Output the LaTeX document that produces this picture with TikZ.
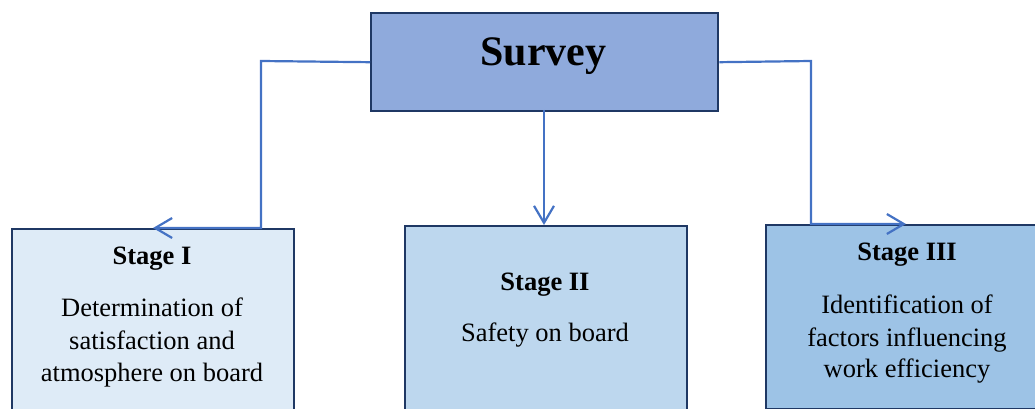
\documentclass[tikz,border=0pt]{standalone}
\usepackage{fontspec}
\setmainfont{Liberation Serif}
\usetikzlibrary{arrows.meta}
\definecolor{navy}{HTML}{1F3864}
\definecolor{surveyfill}{HTML}{8FAADC}
\definecolor{sonefill}{HTML}{DEEBF7}
\definecolor{stwofill}{HTML}{BDD7EE}
\definecolor{sthreefill}{HTML}{9DC3E6}
\definecolor{connblue}{HTML}{4472C4}
\tikzset{
  box/.style={draw=navy, line width=2.4pt, rectangle, inner sep=0pt, anchor=north west},
  conn/.style={draw=connblue, line width=2.2pt, -{Straight Barb[length=17pt,width=20pt,line width=2.2pt]}},
  title/.style={anchor=base, inner sep=0pt, font=\fontsize{26.5}{33}\selectfont\bfseries},
  body/.style={anchor=base, inner sep=0pt, font=\fontsize{26.5}{33}\selectfont},
}
\begin{document}
\begin{tikzpicture}[x=1pt,y=1pt]
\useasboundingbox (0,0) rectangle (1035,-409);
\begin{scope}
\clip (0,0) rectangle (1035,-409);
% boxes
\node[box, fill=surveyfill, minimum width=347pt, minimum height=98pt] (survey) at (370,-12) {};
\node[box, fill=sonefill, minimum width=282pt, minimum height=200pt] (s1) at (11,-228) {};
\node[box, fill=stwofill, minimum width=282pt, minimum height=200pt] (s2) at (404,-225) {};
\node[box, fill=sthreefill, minimum width=290pt, minimum height=184pt] (s3) at (765,-224) {};
\end{scope}
% texts
\node[anchor=base, inner sep=0pt, font=\fontsize{42}{50}\selectfont\bfseries] (tsurvey) at (543.5,-66) {Survey};
\node[title] (t1) at (152,-264) {Stage I};
\node[body] (b1a) at (152,-316.5) {Determination of};
\node[body] (b1b) at (152,-349.5) {satisfaction and};
\node[body] (b1c) at (152,-381) {atmosphere on board};
\node[title] (t2) at (545,-290) {Stage II};
\node[body] (b2a) at (545,-341.5) {Safety on board};
\node[title] (t3) at (907,-260) {Stage III};
\node[body] (b3a) at (907,-313.5) {Identification of};
\node[body] (b3b) at (907,-346.5) {factors influencing};
\node[body] (b3c) at (907,-377) {work efficiency};
% connectors
\coordinate (lbend) at (261,-61);
\coordinate (lcorner) at (261,-228);
\coordinate (ltip) at (153,-228);
\coordinate (rbend) at (811,-61);
\coordinate (rcorner) at (811,-224);
\coordinate (rtip) at (906,-224);
\coordinate (mtop) at (544,-110);
\coordinate (mtip) at (544,-225);
\draw[conn] (survey.west) -- (lbend) -- (lcorner) -- (ltip);
\draw[conn] (survey.east) -- (rbend) -- (rcorner) -- (rtip);
\draw[conn] (mtop) -- (mtip);
\end{tikzpicture}
\end{document}
